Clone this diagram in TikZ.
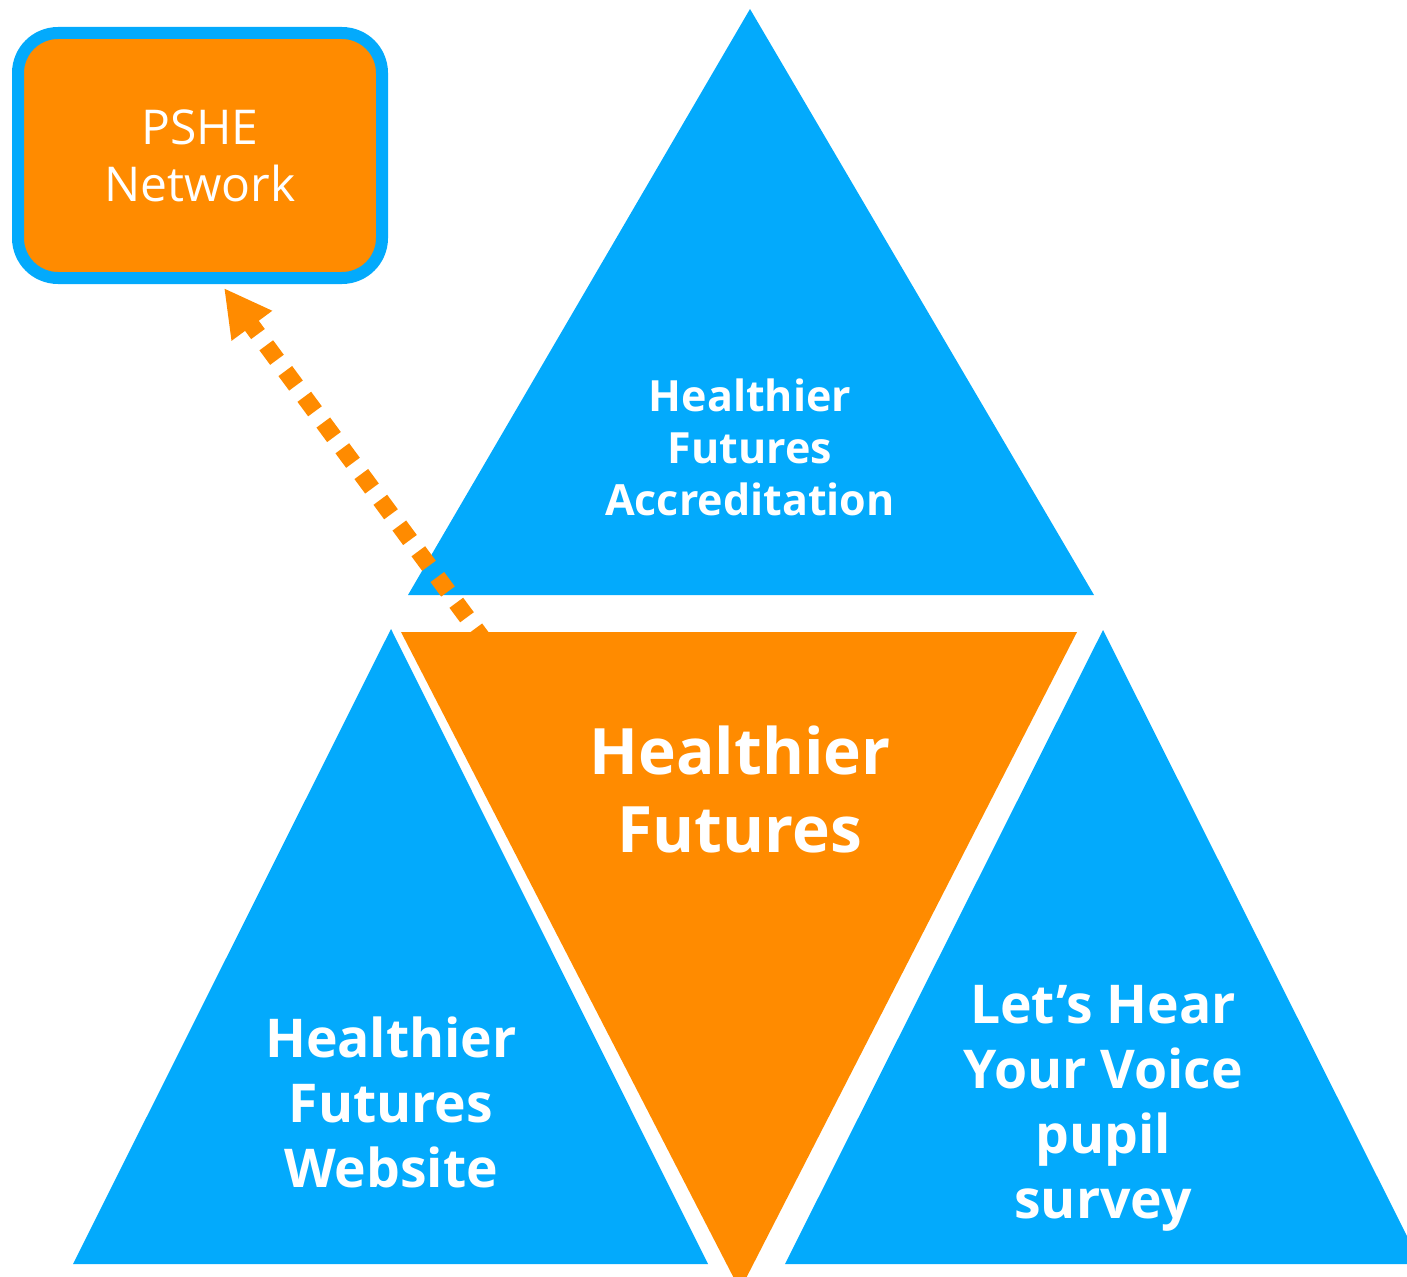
\documentclass[tikz,border=0pt]{standalone}
\usepackage{fontspec}
\setmainfont{Open Sans}
\usetikzlibrary{arrows.meta}
\definecolor{hfblue}{RGB}{3,170,252}
\definecolor{hforange}{RGB}{255,139,0}
\begin{document}
\begin{tikzpicture}[x=1pt,y=-1pt,
  bluetri/.style={fill=hfblue},
  orangetri/.style={fill=hforange},
  trilabel/.style 2 args={text=white,align=center,font=\bfseries\fontsize{#1}{#2}\selectfont},
  netbox/.style={draw=hfblue,fill=hforange,line width=12pt,rounded corners=40pt,
    minimum width=364pt,minimum height=245pt,inner sep=0pt,text=white,align=center,
    font=\fontsize{48}{57}\selectfont},
  linkarrow/.style={draw=hforange,line width=17pt,dash pattern=on 18pt off 14pt,
    -{Triangle[length=47pt,width=47pt]}}
]
\useasboundingbox (0,0) rectangle (1407,1276);

% corners of the four triangles
\coordinate (topA) at (750,9);
\coordinate (topL) at (408,595);
\coordinate (topR) at (1094,595);
\coordinate (lftA) at (391,629);
\coordinate (lftL) at (73,1264);
\coordinate (lftR) at (708,1264);
\coordinate (rgtA) at (1103,630);
\coordinate (rgtL) at (785,1264);
\coordinate (rgtR) at (1421,1264);
\coordinate (ctrL) at (401,632);
\coordinate (ctrR) at (1077,632);
\coordinate (ctrB) at (740,1290);

% outer blue triangles
\fill[bluetri] (topA) -- (topR) -- (topL) -- cycle;
\fill[bluetri] (lftA) -- (lftR) -- (lftL) -- cycle;
\fill[bluetri] (rgtA) -- (rgtR) -- (rgtL) -- cycle;

% network box and the dotted link to it
\node[netbox] (pshe) at (200,155.5) {PSHE\\Network};
\coordinate (linkstart) at (486,643);
\draw[linkarrow] (linkstart) -- ([shift={(24,4)}]pshe.south);

% central inverted triangle
\fill[orangetri] (ctrL) -- (ctrR) -- (ctrB) -- cycle;

% labels
\node[trilabel={43}{52}] (accr) at (750,447) {Healthier\\Futures\\Accreditation};
\node[trilabel={64}{78}] (hf) at (740,789) {Healthier\\Futures};
\node[trilabel={53.5}{65}] (web) at (391,1102) {Healthier\\Futures\\Website};
\node[trilabel={53.5}{65}] (voice) at (1103,1108) {Let’s Hear\\Your Voice\\pupil\\survey};
\end{tikzpicture}
\end{document}
